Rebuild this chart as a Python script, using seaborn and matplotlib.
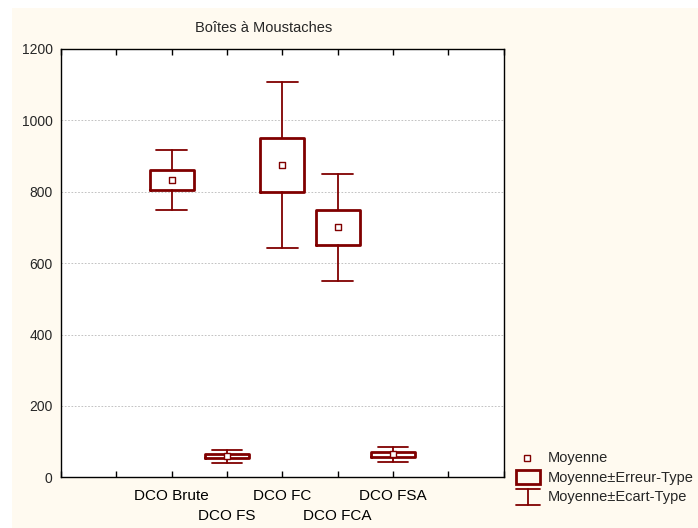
import numpy as np
import pandas as pd
import matplotlib
matplotlib.use("Agg")
import matplotlib.pyplot as plt
import seaborn as sns
from matplotlib.patches import Rectangle
from matplotlib.lines import Line2D
from matplotlib.ticker import FixedLocator, FixedFormatter

# ---- data ----
categories = ["DCO Brute", "DCO FS", "DCO FC", "DCO FCA", "DCO FSA"]
means = [833, 59, 875, 700, 64]
std_errors = [27, 5.5, 77, 49, 7.5]
std_devs = [84, 18, 232, 150, 22]
y_ticks = [0, 200, 400, 600, 800, 1000, 1200]
title = "Boîtes à Moustaches"
legend_labels = ["Moyenne", "Moyenne±Erreur-Type", "Moyenne±Ecart-Type"]

RED = "#800000"
CREAM = "#FFFAF0"
W, H = 698, 528

sns.set_style("white")
plt.rcParams["font.family"] = ["Liberation Sans", "DejaVu Sans"]

df = pd.DataFrame({"category": categories, "mean": means,
                   "se": std_errors, "sd": std_devs})
df["pos"] = np.arange(len(df))

fig = plt.figure(figsize=(W / 100, H / 100), dpi=100)
fig.patch.set_facecolor("white")
fig.add_artist(Rectangle((12 / W, 0), 1 - 12 / W, 1 - 8 / H,
                         transform=fig.transFigure, facecolor=CREAM,
                         edgecolor="none", zorder=-5))

ax = fig.add_axes([61 / W, 1 - 477.3 / H, (503.7 - 61) / W, (477.3 - 49) / H])
ax.set_facecolor("white")

stats = []
for _, r in df.iterrows():
    stats.append(dict(med=r["mean"], q1=r["mean"] - r["se"], q3=r["mean"] + r["se"],
                      whislo=r["mean"] - r["sd"], whishi=r["mean"] + r["sd"],
                      fliers=[], label=r["category"]))
ax.bxp(stats, positions=df["pos"].values, widths=0.8, capwidths=0.55,
       showfliers=False,
       boxprops=dict(color=RED, linewidth=2.0),
       whiskerprops=dict(color=RED, linewidth=1.3),
       capprops=dict(color=RED, linewidth=1.3),
       medianprops=dict(linewidth=0))

sns.scatterplot(data=df, x="pos", y="mean", marker="s", s=22,
                facecolor="white", edgecolor=RED, linewidth=1.0,
                ax=ax, zorder=5, legend=False)

ax.set_xlim(-2, 6)
ax.set_ylim(0, 1200)
ax.set_xlabel("")
ax.set_ylabel("")

# major ticks: every position; first label row (even categories)
xt = np.arange(-2, 7)
major_labels = [categories[t] if (0 <= t < len(categories) and t % 2 == 0) else ""
                for t in xt]
ax.xaxis.set_major_locator(FixedLocator(xt))
ax.xaxis.set_major_formatter(FixedFormatter(major_labels))
# minor ticks: second label row (odd categories)
odd_pos = [i for i in range(len(categories)) if i % 2 == 1]
ax.xaxis.remove_overlapping_locs = False
ax.xaxis.set_minor_locator(FixedLocator(odd_pos))
ax.xaxis.set_minor_formatter(FixedFormatter([categories[i] for i in odd_pos]))
ax.tick_params(axis="x", which="major", direction="in", length=4, width=1,
               top=True, bottom=True, pad=8.3, labelsize=11, colors="black")
ax.tick_params(axis="x", which="minor", length=0, top=False, bottom=True,
               labeltop=False, labelbottom=True,
               pad=23, labelsize=11, colors="black")

ax.set_yticks(y_ticks)
ax.set_yticklabels([str(v) for v in y_ticks], fontsize=10)
ax.tick_params(axis="y", length=0, pad=6)

ax.yaxis.grid(True, linestyle=(0, (2, 2)), color="#b8b8b8", linewidth=0.6)
ax.set_axisbelow(True)
for sp in ax.spines.values():
    sp.set_color("black")
    sp.set_linewidth(1.0)
    sp.set_visible(True)

fig.text(264 / W, 1 - 28 / H, title, ha="center", va="center", fontsize=10.5)

# ---- legend (drawn outside the plot area) ----
def fx(x):
    return x / W

def fy(y):
    return 1 - y / H

fig.add_artist(Line2D([fx(527)], [fy(458)], marker="s", markersize=5,
                      markerfacecolor="white", markeredgecolor=RED,
                      markeredgewidth=1.0, linestyle="none",
                      transform=fig.transFigure))
fig.add_artist(Rectangle((fx(516), fy(484)), 24 / W, 14 / H,
                         transform=fig.transFigure, facecolor="none",
                         edgecolor=RED, linewidth=2.0))
for xs, ys in [((516, 540), (489, 489)), ((528, 528), (489, 505)),
               ((516, 540), (505, 505))]:
    fig.add_artist(Line2D([fx(xs[0]), fx(xs[1])], [fy(ys[0]), fy(ys[1])],
                          color=RED, linewidth=1.3, transform=fig.transFigure))
for lab, yy in zip(legend_labels, [458, 478, 497]):
    fig.text(fx(548), fy(yy), lab, ha="left", va="center", fontsize=10.5)

fig.savefig("out.png", dpi=100)
